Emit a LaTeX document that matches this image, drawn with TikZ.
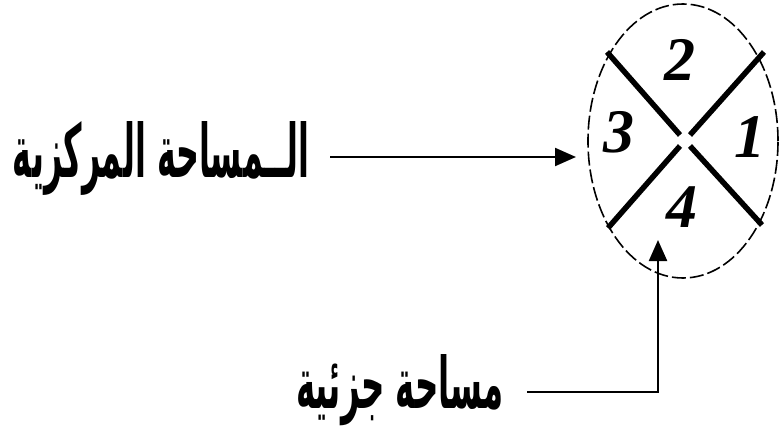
\documentclass[tikz,border=0pt]{standalone}
\usepackage{fontspec}
\usepackage{graphicx}
\usetikzlibrary{arrows.meta,shapes.geometric}
\TeXXeTstate=1
\newfontfamily\arabicfont[Script=Arabic]{DejaVu Sans}
\setmainfont{Liberation Serif}
\begin{document}
\begin{tikzpicture}[x=1pt,y=-1pt,
  arlabel/.style={font=\arabicfont\bfseries\fontsize{40}{48}\selectfont, inner sep=0},
  digit/.style={font=\bfseries\itshape\fontsize{62}{64}\selectfont, inner sep=0},
  cross/.style={line width=5.5pt},
  pointer/.style={line width=2.2pt, -{Triangle[length=21pt,width=18pt]}}]
\useasboundingbox (0,0) rectangle (779,428);
% the divided area
\node (zone) [ellipse, draw, dash pattern=on 14pt off 4pt, line width=1.6pt,
  minimum width=190pt, minimum height=274pt, inner sep=0] at (683,141) {};
\coordinate (nw) at (607,52);
\coordinate (ne) at (764,52);
\coordinate (sw) at (608,228);
\coordinate (se) at (762,225);
\coordinate (cnw) at (680,135);
\coordinate (cne) at (690,135);
\coordinate (csw) at (680,146);
\coordinate (cse) at (690,146);
\draw[cross] (nw) -- (cnw);
\draw[cross] (ne) -- (cne);
\draw[cross] (sw) -- (csw);
\draw[cross] (se) -- (cse);
\node[digit] (d1) at (750,137) {1};
\node[digit] (d2) at (680,60) {2};
\node[digit] (d3) at (619,132) {3};
\node[digit] (d4) at (682,207) {4};
% labels and arrows
\node[arlabel] (central) at (161,158) {\resizebox{296pt}{56pt}{\beginR الــمساحة المركزية\endR}};
\node[arlabel] (partial) at (400,390) {\resizebox{208pt}{54pt}{\beginR مساحة جزئية\endR}};
\coordinate (cstart) at (330,157);
\coordinate (ctip) at (576,157);
\draw[pointer] (cstart) -- (ctip);
\coordinate (pstart) at (527,392);
\coordinate (ptip) at (658,240);
\draw[pointer] (pstart) -| (ptip);
\end{tikzpicture}
\end{document}
